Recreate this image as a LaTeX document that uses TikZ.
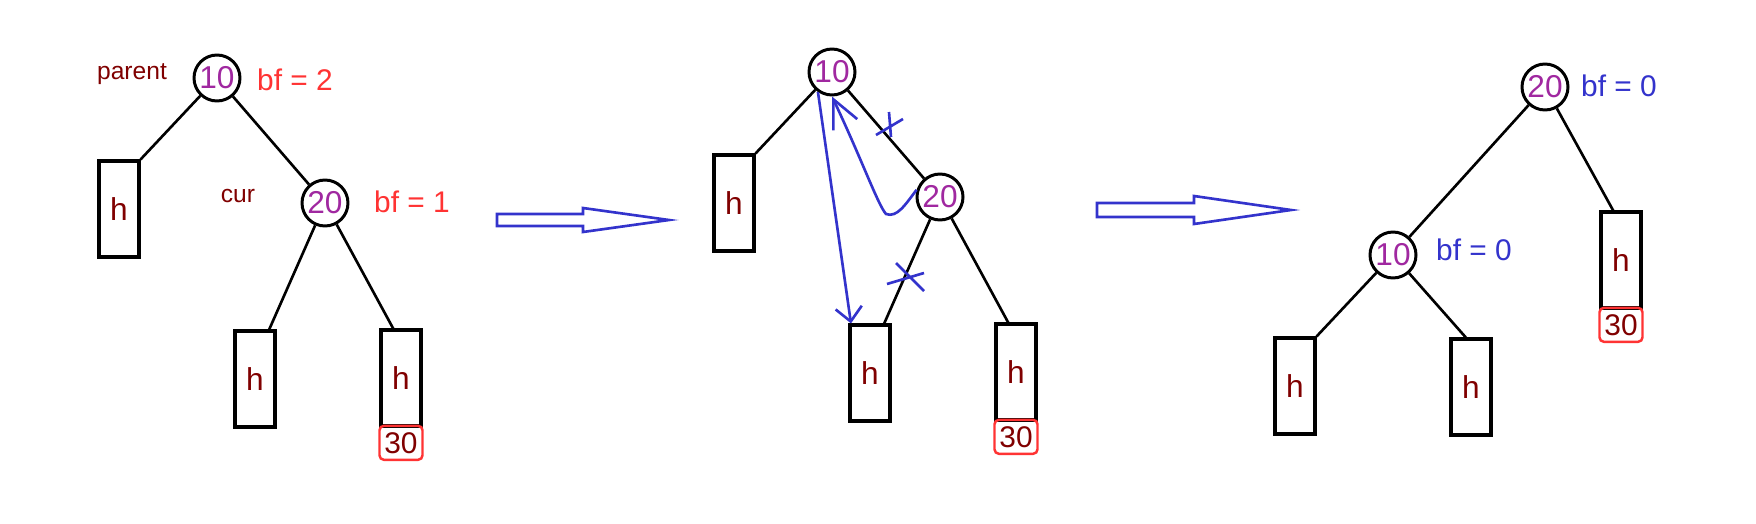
\documentclass[tikz,border=0pt]{standalone}
\usepackage{fontspec}
\setmainfont{Liberation Sans}
\usetikzlibrary{positioning,arrows.meta}
\definecolor{darkred}{RGB}{128,0,0}
\definecolor{keypurple}{RGB}{160,40,160}
\definecolor{bfred}{RGB}{255,51,51}
\definecolor{penblue}{RGB}{51,51,204}
\def\hollowarrow#1#2{-- ++(0,-#2) -- ++(#1,0) -- ++(0,-#2) -- ++(#1,2*#2) -- ++(-#1,2*#2) -- ++(0,-#2) -- ++(-#1,0) -- cycle}
\tikzset{
  key/.style={circle,draw,line width=1.7pt,minimum size=0.92cm,inner sep=0pt,text=keypurple,font=\fontsize{18}{20}\selectfont},
  subtree/.style={rectangle,draw,line width=1.8pt,minimum width=0.8cm,minimum height=1.92cm,inner sep=0pt,text=darkred,font=\fontsize{18}{20}\selectfont},
  newkey/.style={rectangle,draw=bfred,line width=1.4pt,rounded corners=2.5pt,minimum width=0.86cm,minimum height=0.68cm,inner sep=0pt,text=darkred,font=\fontsize{17}{19}\selectfont},
  tag/.style={text=darkred,font=\fontsize{14}{16}\selectfont},
  bf/.style={font=\fontsize{17}{19}\selectfont},
  edge/.style={line width=1.5pt},
  pen/.style={draw=penblue,line width=1.5pt}
}
\begin{document}
\begin{tikzpicture}[x=0.02cm,y=-0.02cm]
                \useasboundingbox (0,0) rectangle (1756,524);
                \begin{scope}[shift={(217,78)}]
                    \node[key] (a10) at (0,0) {10};
                    \node[tag] (parent) at (-85,-4) {parent};
                    \node[bf,text=bfred] (abf10) at (78,2) {bf = 2};
                    \node[subtree] (al) at (-98,131) {h};
                    \node[key] (a20) at (108,125) {20};
                    \node[tag] (cur) at (21,118) {cur};
                    \node[bf,text=bfred] (abf20) at (195,124) {bf = 1};
                    \node[subtree] (all) at (38,301) {h};
                    \node[subtree] (alr) at (184,300) {h};
                    \node[newkey,below=-0.06cm of alr] (a30) {30};
                    \draw[edge] (a10) -- (al.north east) (a10) -- (a20) (a20) -- (all.74) (a20) -- (alr.99);
                \end{scope}
                \draw[pen] (497,220) \hollowarrow{86}{6};
                \begin{scope}[shift={(832,72)}]
                    \node[key] (b10) at (0,0) {10};
                    \node[subtree] (bl) at (-98,131) {h};
                    \node[key] (b20) at (108,125) {20};
                    \node[subtree] (bm) at (38,301) {h};
                    \node[subtree] (br) at (184,300) {h};
                    \node[newkey,below=-0.06cm of br] (b30) {30};
                    \draw[edge] (b10) -- (bl.north east) (b10) -- (b20) (b20) -- (bm.74) (b20) -- (br.99);
                    \draw[pen,-{Straight Barb[length=16pt,width=15pt]}] (b20.163) .. controls (73,133) and (65,146) .. (54,142) .. controls (46,133) and (30,88) .. (b10.south);
                    \draw[pen,-{Straight Barb[length=8pt,width=15pt]}] (b10.235) -- (bm.111);
                    \draw[pen] (44,63) -- (71,47) (57,40) -- (59,65);
                    \draw[pen] (55,212) -- (92,201) (64,191) -- (92,219);
                \end{scope}
                \draw[pen] (1097,210) \hollowarrow{97}{7};
                \begin{scope}[shift={(1545,87)}]
                    \node[key] (c20) at (0,0) {20};
                    \node[bf,text=penblue] (cbf20) at (74,-1) {bf = 0};
                    \node[key] (c10) at (-152,168) {10};
                    \node[bf,text=penblue] (cbf10) at (-71,163) {bf = 0};
                    \node[subtree] (cl) at (-250,299) {h};
                    \node[subtree] (cm) at (-74,300) {h};
                    \node[subtree] (cr) at (76,173) {h};
                    \node[newkey,below=-0.06cm of cr] (c30) {30};
                    \draw[edge] (c20) -- (c10) (c20) -- (cr.99) (c10) -- (cl.north east) (c10) -- (cm.96);
                \end{scope}
            \end{tikzpicture}
\end{document}
